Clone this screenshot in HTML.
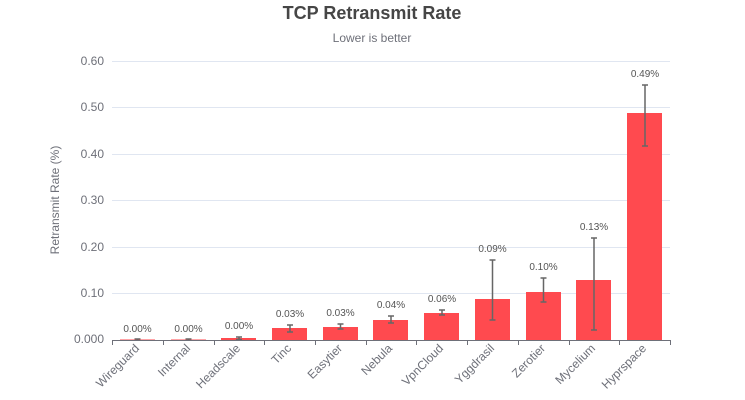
<!DOCTYPE html>
<html><head><meta charset="utf-8"><style>body{margin:0;background:#fff}svg{display:block;font-family:"Liberation Sans",sans-serif}</style></head><body>
<svg width="745" height="400" xmlns="http://www.w3.org/2000/svg">
<text x="372" y="19" text-anchor="middle" font-size="18" font-weight="bold" fill="#464646">TCP Retransmit Rate</text>
<text x="372" y="42" text-anchor="middle" font-size="12" fill="#6e7079">Lower is better</text>
<g stroke="#e0e6f1" stroke-width="1">
<line x1="112" x2="670" y1="61.5" y2="61.5"/><line x1="112" x2="670" y1="107.5" y2="107.5"/><line x1="112" x2="670" y1="154.5" y2="154.5"/><line x1="112" x2="670" y1="200.5" y2="200.5"/><line x1="112" x2="670" y1="247.5" y2="247.5"/><line x1="112" x2="670" y1="293.5" y2="293.5"/>
</g>
<g font-size="12" fill="#6e7079" text-anchor="end">
<text x="104" y="65">0.60</text><text x="104" y="111">0.50</text><text x="104" y="158">0.40</text><text x="104" y="204">0.30</text><text x="104" y="251">0.20</text><text x="104" y="297">0.10</text><text x="104" y="343">0.000</text>
</g>
<text transform="translate(59,200) rotate(-90)" text-anchor="middle" font-size="12" fill="#6e7079">Retransmit Rate (%)</text>
<g fill="#ff4a4f">
<rect x="120" y="339.5" width="35" height="0.5"/>
<rect x="171" y="339.5" width="35" height="0.5"/>
<rect x="221" y="338" width="35" height="2"/>
<rect x="272" y="328" width="35" height="12"/>
<rect x="323" y="327" width="35" height="13"/>
<rect x="373" y="320" width="35" height="20"/>
<rect x="424" y="313" width="35" height="27"/>
<rect x="475" y="299" width="35" height="41"/>
<rect x="526" y="292" width="35" height="48"/>
<rect x="576" y="280" width="35" height="60"/>
<rect x="627" y="113" width="35" height="227"/>
</g>
<g stroke="#666" stroke-width="1.5" fill="none">
<path d="M137.5 339v1M134.5 339h6"/>
<path d="M188.5 339v1M185.5 339h6"/>
<path d="M239 337v2.5M236 337h6M236 339.5h6"/>
<path d="M290 325v7M287 325h6M287 332h6"/>
<path d="M340.5 324v5M337.5 324h6M337.5 329h6"/>
<path d="M391 316v7M388 316h6M388 323h6"/>
<path d="M442 310v5M439 310h6M439 315h6"/>
<path d="M492.5 260v60M489.5 260h6M489.5 320h6"/>
<path d="M543.5 278v24M540.5 278h6M540.5 302h6"/>
<path d="M594 238v92M591 238h6M591 330h6"/>
<path d="M645 85v61M642 85h6M642 146h6"/>
</g>
<g font-size="10" fill="#555" text-anchor="middle">
<text x="137.5" y="332">0.00%</text><text x="188.5" y="332">0.00%</text><text x="239" y="329">0.00%</text><text x="290" y="317">0.03%</text><text x="340.5" y="316">0.03%</text><text x="391" y="308">0.04%</text><text x="442" y="302">0.06%</text><text x="492.5" y="252">0.09%</text><text x="543.5" y="270">0.10%</text><text x="594" y="230">0.13%</text><text x="645" y="77">0.49%</text>
</g>
<g stroke="#6e7079" stroke-width="1">
<line x1="112" x2="670" y1="340.5" y2="340.5"/>
<path d="M112.5 340v5M163.5 340v5M214.5 340v5M264.5 340v5M315.5 340v5M366.5 340v5M416.5 340v5M467.5 340v5M518.5 340v5M569.5 340v5M619.5 340v5M670.5 340v5"/>
</g>
<g font-size="12" fill="#6e7079" text-anchor="end">
<text transform="translate(140,349) rotate(-45)">Wireguard</text>
<text transform="translate(191,349) rotate(-45)">Internal</text>
<text transform="translate(241,349) rotate(-45)">Headscale</text>
<text transform="translate(292,349) rotate(-45)">Tinc</text>
<text transform="translate(343,349) rotate(-45)">Easytier</text>
<text transform="translate(393,349) rotate(-45)">Nebula</text>
<text transform="translate(444,349) rotate(-45)">VpnCloud</text>
<text transform="translate(495,349) rotate(-45)">Yggdrasil</text>
<text transform="translate(546,349) rotate(-45)">Zerotier</text>
<text transform="translate(596,349) rotate(-45)">Mycelium</text>
<text transform="translate(647,349) rotate(-45)">Hyprspace</text>
</g>
</svg>
</body></html>
